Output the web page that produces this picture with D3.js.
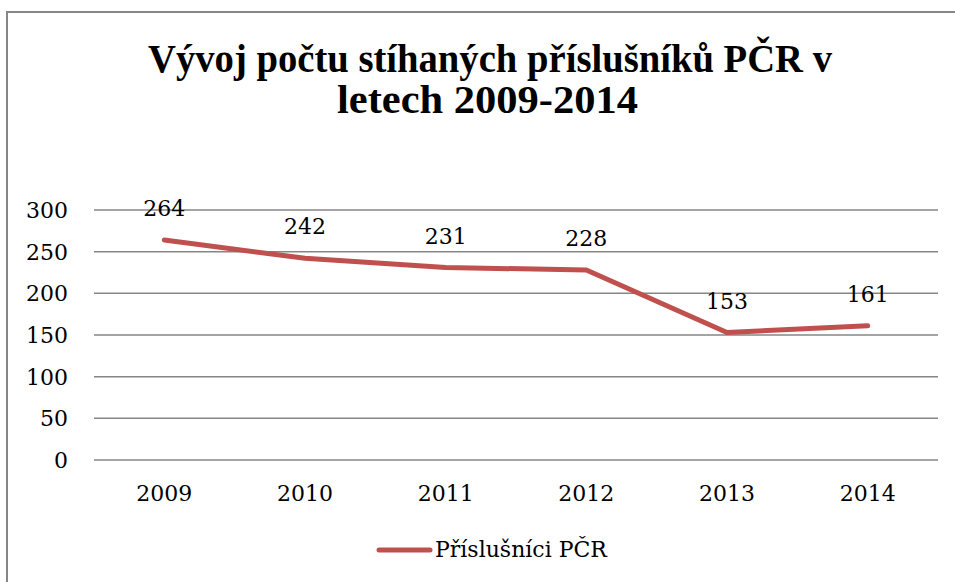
<!DOCTYPE html>
<html>
<head>
<meta charset="utf-8">
<script src="https://cdn.jsdelivr.net/npm/d3@7"></script>
<style>
  body { margin: 0; background: #fff; }
  svg { display: block; }
</style>
</head>
<body>
<div id="chart"></div>
<script>
// Line chart - prosecuted police officers 2009-2014

const years = ["2009", "2010", "2011", "2012", "2013", "2014"];
const counts = [264, 242, 231, 228, 153, 161];
const yTicks = [0, 50, 100, 150, 200, 250, 300];
const seriesName = "Příslušníci PČR";
const titleLines = ["Vývoj počtu stíhaných příslušníků PČR v", "letech 2009-2014"];

const width = 955;
const height = 582;
const lineColor = "#C0504D";

const svg = d3.select("#chart")
    .append("svg")
    .attr("width", width)
    .attr("height", height);

// outer frame (runs off the right and bottom edge)
svg.append("rect")
    .attr("x", 7)
    .attr("y", 12)
    .attr("width", 1000)
    .attr("height", 700)
    .attr("fill", "#fff")
    .attr("stroke", "#868686")
    .attr("stroke-width", 2);

// title
const titleWidths = [684, 301];
svg.append("g")
    .selectAll("text")
    .data(titleLines)
    .join("text")
    .attr("x", (d, i) => i === 0 ? 148 : 337)
    .attr("y", (d, i) => 72 + i * 41)
    .attr("textLength", (d, i) => titleWidths[i])
    .attr("lengthAdjust", "spacingAndGlyphs")
    .style("font-family", "'Liberation Serif', serif")
    .style("font-weight", "bold")
    .style("font-size", "40px")
    .attr("fill", "#000")
    .text(d => d);

const x = d3.scaleBand()
    .domain(years)
    .range([94, 938]);

const y = d3.scaleLinear()
    .domain([0, 300])
    .range([460, 210]);

// gridlines
svg.append("g")
    .selectAll("line")
    .data(yTicks)
    .join("line")
    .attr("x1", 94)
    .attr("x2", 938)
    .attr("y1", d => y(d))
    .attr("y2", d => y(d))
    .attr("stroke", "#868686")
    .attr("stroke-width", 1.5);

const labelFont = "'DejaVu Serif', serif";
const labelSize = "22px";

// y axis labels
svg.append("g")
    .selectAll("text")
    .data(yTicks)
    .join("text")
    .attr("x", 68)
    .attr("y", d => y(d) + 8)
    .attr("text-anchor", "end")
    .style("font-family", labelFont)
    .style("font-size", labelSize)
    .text(d => d);

// x axis labels
svg.append("g")
    .selectAll("text")
    .data(years)
    .join("text")
    .attr("x", d => x(d) + x.bandwidth() / 2)
    .attr("y", 501)
    .attr("text-anchor", "middle")
    .style("font-family", labelFont)
    .style("font-size", labelSize)
    .text(d => d);

const points = years.map((yr, i) => ({ year: yr, value: counts[i] }));

const line = d3.line()
    .x(d => x(d.year) + x.bandwidth() / 2)
    .y(d => y(d.value));

svg.append("path")
    .datum(points)
    .attr("d", line)
    .attr("fill", "none")
    .attr("stroke", lineColor)
    .attr("stroke-width", 5)
    .attr("stroke-linecap", "round")
    .attr("stroke-linejoin", "round");

// data labels
svg.append("g")
    .selectAll("text")
    .data(points)
    .join("text")
    .attr("x", d => x(d.year) + x.bandwidth() / 2)
    .attr("y", d => y(d.value) - 24)
    .attr("text-anchor", "middle")
    .style("font-family", labelFont)
    .style("font-size", labelSize)
    .text(d => d.value);

// legend
svg.append("line")
    .attr("x1", 379)
    .attr("x2", 430)
    .attr("y1", 550)
    .attr("y2", 550)
    .attr("stroke", lineColor)
    .attr("stroke-width", 5)
    .attr("stroke-linecap", "round");

svg.append("text")
    .attr("x", 435)
    .attr("y", 557)
    .style("font-family", labelFont)
    .style("font-size", labelSize)
    .text(seriesName);
</script>
</body>
</html>
